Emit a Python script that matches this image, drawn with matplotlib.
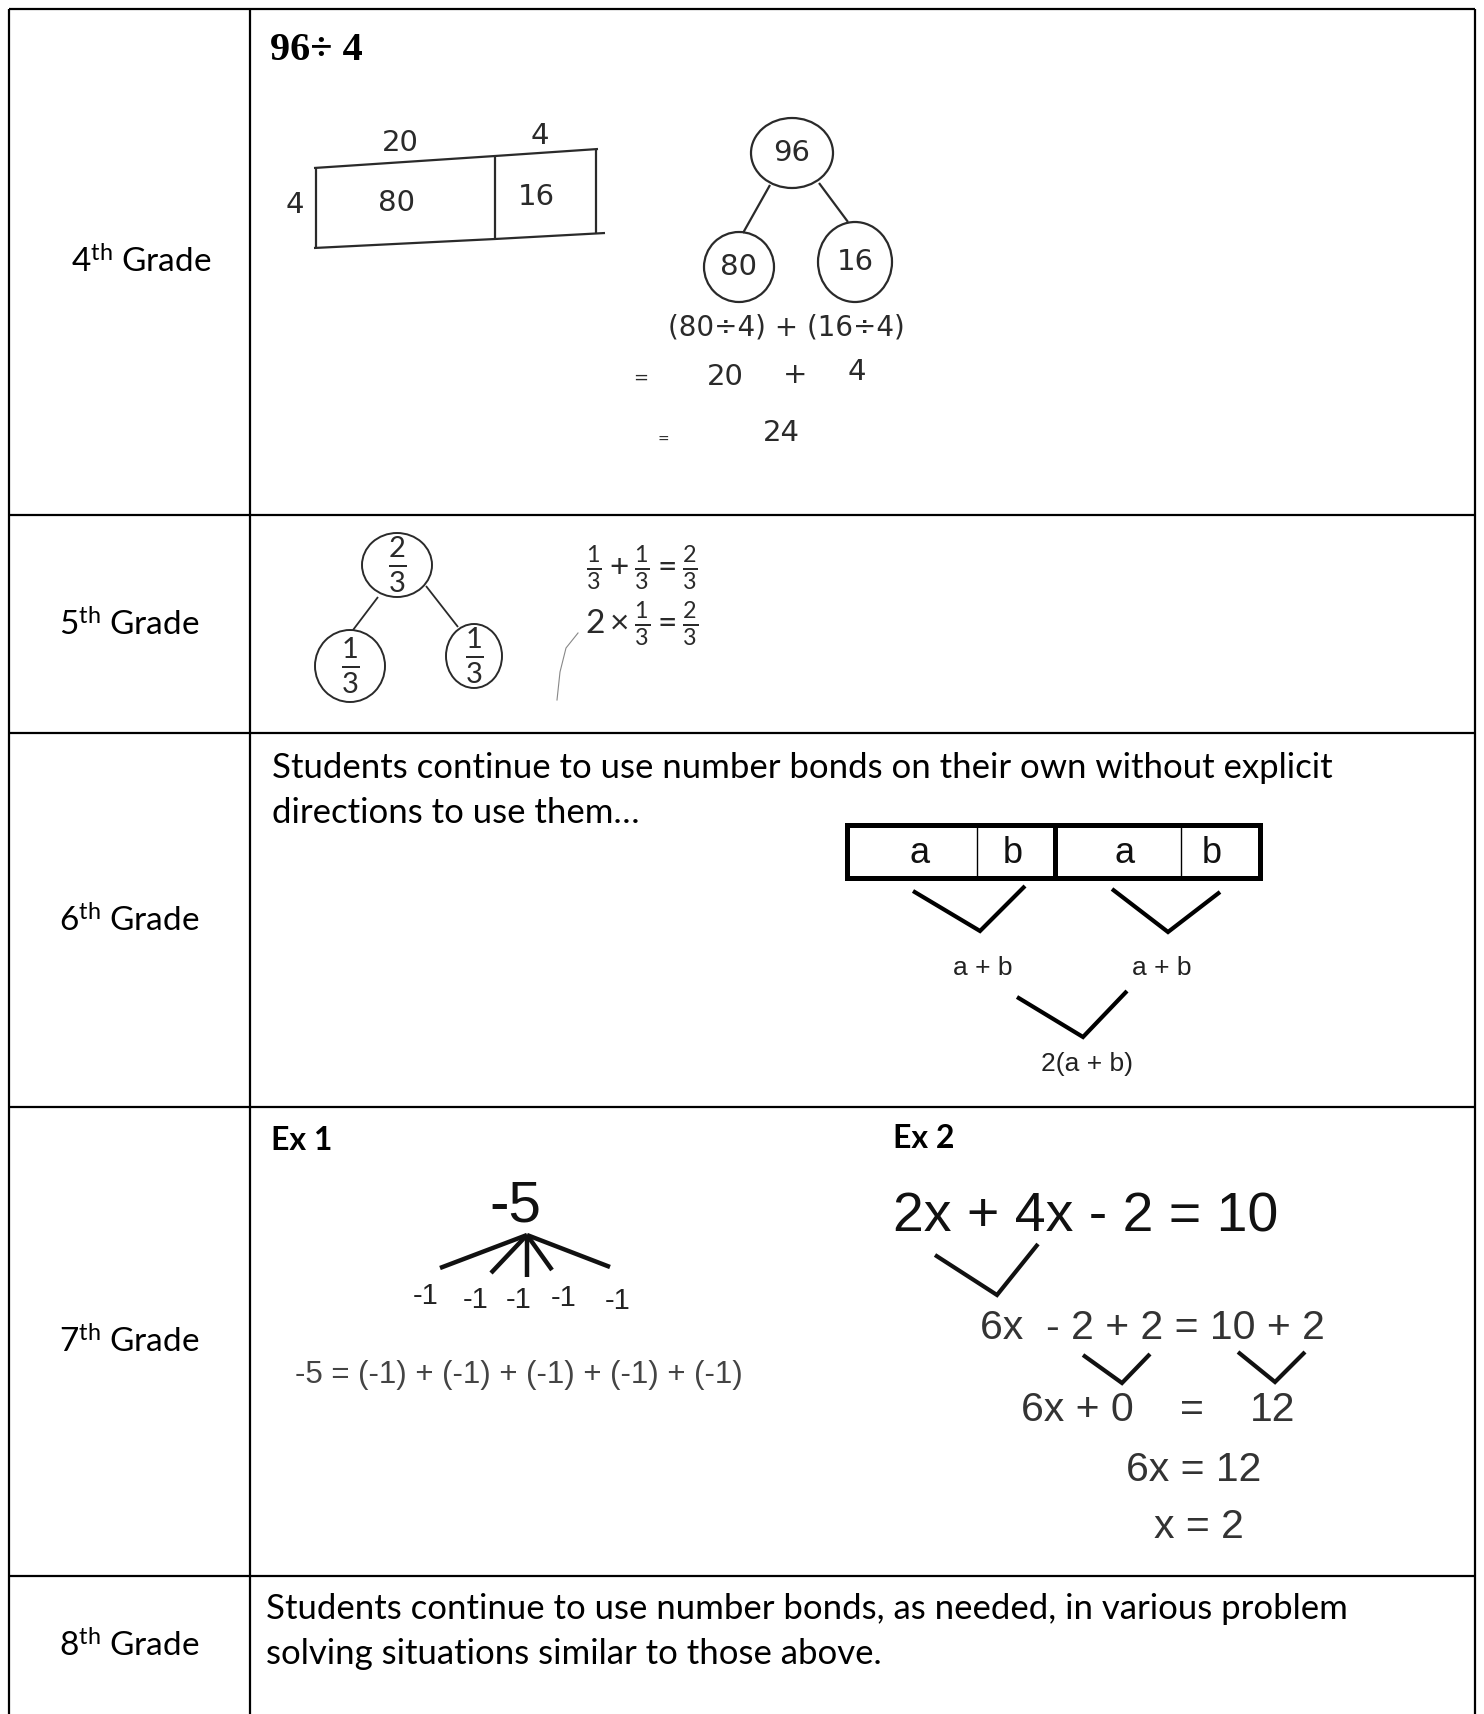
import matplotlib
matplotlib.use('Agg')
import matplotlib.pyplot as plt
from matplotlib.patches import Ellipse, Rectangle

plt.rcParams['font.family'] = ['Lato', 'DejaVu Sans']
plt.rcParams['mathtext.fontset'] = 'custom'
plt.rcParams['mathtext.rm'] = 'Lato'
plt.rcParams['mathtext.it'] = 'Lato'
plt.rcParams['mathtext.bf'] = 'Lato:bold'

# table content
grades = ['4', '5', '6', '7', '8']
title_4th = '96÷ 4'
area_top = ['20', '4']
area_side = '4'
area_cells = ['80', '16']
bond_4th = ['96', '80', '16']
steps_4th = ['(80÷4) + (16÷4)', '20', '+', '4', '24']
bond_5th = [r'$\frac{2}{3}$', r'$\frac{1}{3}$', r'$\frac{1}{3}$']
eqs_5th = [r'$\frac{1}{3}+\frac{1}{3}=\frac{2}{3}$', r'$2\times\frac{1}{3}=\frac{2}{3}$']
text_6th = ['Students continue to use number bonds on their own without explicit',
            'directions to use them…']
bar_parts = ['a', 'b', 'a', 'b']
sums_6th = ['a + b', 'a + b', '2(a + b)']
ex_titles = ['Ex 1', 'Ex 2']
parts_ex1 = ['-1', '-1', '-1', '-1', '-1']
total_ex1 = '-5'
sum_ex1 = '-5 = (-1) + (-1) + (-1) + (-1) + (-1)'
ex2_lines = ['2x + 4x - 2 = 10', '6x  - 2 + 2 = 10 + 2', '6x = 12', 'x = 2']
ex2_row3 = ['6x + 0', '=', '12']
text_8th = ['Students continue to use number bonds, as needed, in various problem',
            'solving situations similar to those above.']

W, H = 1484, 1714
fig = plt.figure(figsize=(W / 100, H / 100), dpi=100)
ax = fig.add_axes([0, 0, 1, 1])
ax.set_xlim(0, W)
ax.set_ylim(H, 0)
ax.axis('off')

# grid
rows = [9, 515, 733, 1107, 1576]
for y in rows:
    ax.plot([9, 1475], [y, y], color='black', lw=1.6, solid_capstyle='butt')
for x in [9, 250, 1475]:
    ax.plot([x, x], [9, H], color='black', lw=1.6, solid_capstyle='butt')

# grade labels
label_pos = [(71, 262), (59, 625), (59, 921), (59, 1342), (59, 1646)]
for g, (x, y) in zip(grades, label_pos):
    ax.text(x, y, g + r'$^{\mathrm{th}}$' + ' Grade', fontsize=24, va='center', ha='left')

ink = '#2a2a2a'
hand = dict(color=ink, fontsize=21, ha='center', va='center', family='DejaVu Sans')

def line(pts, lw=1.6, c=ink):
    ax.plot([p[0] for p in pts], [p[1] for p in pts], color=c, lw=lw,
            solid_joinstyle='miter', solid_capstyle='butt')

# ---- 4th grade
ax.text(270, 50, title_4th, family='Liberation Serif', fontweight='bold', fontsize=29,
        va='center', ha='left')
line([(314, 168), (495, 156), (598, 149)])
line([(314, 248), (495, 239), (605, 233)])
line([(316, 168), (316, 248)])
line([(495, 156), (495, 239)])
line([(596, 149), (596, 234)])
ax.text(400, 143, area_top[0], **hand)
ax.text(540, 136, area_top[1], **hand)
ax.text(295, 205, area_side, **hand)
ax.text(397, 203, area_cells[0], **hand)
ax.text(536, 197, area_cells[1], **hand)

for (cx, cy, rx, ry), t in zip([(792, 153, 41, 35), (739, 267, 35, 35), (855, 262, 37, 40)], bond_4th):
    ax.add_patch(Ellipse((cx, cy), 2 * rx, 2 * ry, fill=False, ec=ink, lw=1.6))
    ax.text(cx, cy, t, **hand)
line([(770, 185), (743, 233)])
line([(819, 183), (848, 222)])
ax.text(786, 327, steps_4th[0], **{**hand, 'fontsize': 20})
ax.text(641, 378, '=', **{**hand, 'fontsize': 13})
ax.text(725, 377, steps_4th[1], **hand)
ax.text(795, 375, steps_4th[2], **hand)
ax.text(857, 372, steps_4th[3], **hand)
ax.text(663, 440, '=', **{**hand, 'fontsize': 10})
ax.text(781, 433, steps_4th[4], **hand)

# ---- 5th grade
for (cx, cy, rx, ry), t in zip([(397, 565, 35, 32), (350, 666, 35, 36), (474, 656, 28, 32)], bond_5th):
    ax.add_patch(Ellipse((cx, cy), 2 * rx, 2 * ry, fill=False, ec=ink, lw=1.4))
    ax.text(cx, cy, t, color=ink, fontsize=30, ha='center', va='center')
line([(378, 597), (353, 630)], lw=1.3)
line([(426, 586), (458, 627)], lw=1.3)
ax.text(642, 568, eqs_5th[0], color=ink, fontsize=24, ha='center', va='center')
ax.text(642, 624, eqs_5th[1], color=ink, fontsize=24, ha='center', va='center')
ax.plot([557, 560, 566, 578], [700, 672, 648, 633], color='#888888', lw=0.8)

# ---- 6th grade
ax.text(272, 768, text_6th[0], fontsize=25, va='center', ha='left')
ax.text(272, 813, text_6th[1], fontsize=25, va='center', ha='left')
ax.add_patch(Rectangle((847, 825), 413, 53, fill=False, ec='black', lw=3.6))
line([(1055, 825), (1055, 878)], lw=3.6, c='black')
line([(977, 827), (977, 876)], lw=1.0, c='black')
line([(1181, 827), (1181, 876)], lw=1.0, c='black')
for t, x in zip(bar_parts, [920, 1013, 1125, 1212]):
    ax.text(x, 853, t, family='Liberation Sans', fontsize=26, ha='center', va='center', color='#111')
for pts in [[(913, 891), (980, 931), (1025, 886)],
            [(1112, 889), (1168, 932), (1220, 892)],
            [(1017, 997), (1083, 1037), (1127, 991)]]:
    line(pts, lw=3.0, c='black')
for t, (x, y) in zip(sums_6th, [(983, 968), (1162, 968), (1087, 1064)]):
    ax.text(x, y, t, family='Liberation Sans', fontsize=19, ha='center', va='center', color='#222')

# ---- 7th grade
ax.text(271, 1141, ex_titles[0], fontsize=23, fontweight='bold', va='center', ha='left')
ax.text(893, 1138, ex_titles[1], fontsize=23, fontweight='bold', va='center', ha='left')
ax.text(515, 1207, total_ex1, family='Liberation Sans', fontsize=42, ha='center', va='center', color='#111')
apex = (527, 1235)
ends = [(440, 1268), (491, 1273), (527, 1277), (552, 1270), (610, 1267)]
for e in ends:
    line([apex, e], lw=3.2, c='#111')
for t, (x, y) in zip(parts_ex1, [(426, 1296), (476, 1300), (519, 1300), (564, 1298), (618, 1301)]):
    ax.text(x, y, t, family='Liberation Sans', fontsize=21, ha='center', va='center', color='#222')
ax.text(295, 1375, sum_ex1, family='Liberation Sans', fontsize=22.5, ha='left', va='center', color='#444')

ax.text(893, 1218, ex2_lines[0], family='Liberation Sans', fontsize=40, ha='left', va='center', color='#111')
line([(935, 1255), (997, 1295), (1038, 1244)], lw=3.0, c='#111')
ax.text(980, 1328, ex2_lines[1], family='Liberation Sans', fontsize=29.5, ha='left', va='center', color='#333')
line([(1083, 1355), (1122, 1383), (1150, 1354)], lw=3.0, c='#111')
line([(1238, 1352), (1275, 1382), (1305, 1352)], lw=3.0, c='#111')
for t, x in zip(ex2_row3, [1077, 1192, 1273]):
    ax.text(x, 1410, t, family='Liberation Sans', fontsize=29.5, ha='center', va='center', color='#333')
ax.text(1194, 1470, ex2_lines[2], family='Liberation Sans', fontsize=29.5, ha='center', va='center', color='#333')
ax.text(1199, 1527, ex2_lines[3], family='Liberation Sans', fontsize=29.5, ha='center', va='center', color='#333')

# ---- 8th grade
ax.text(266, 1609, text_8th[0], fontsize=25, va='center', ha='left')
ax.text(266, 1654, text_8th[1], fontsize=25, va='center', ha='left')

fig.savefig('out.png', dpi=100)
